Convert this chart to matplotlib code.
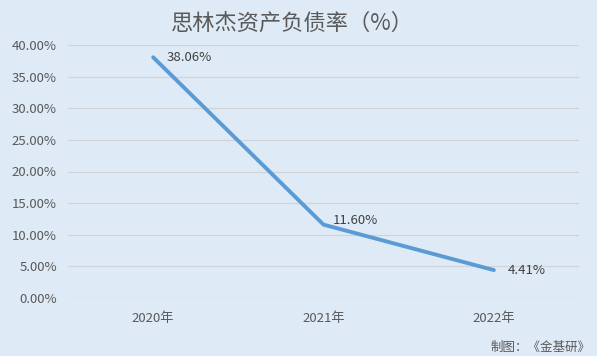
import matplotlib.pyplot as plt
from matplotlib.ticker import FuncFormatter

plt.rcParams['font.family'] = ['Noto Sans CJK SC', 'DejaVu Sans']

years = ['2020年', '2021年', '2022年']
ratio = [38.06, 11.60, 4.41]
labels = ['38.06%', '11.60%', '4.41%']
yticks = [0, 5, 10, 15, 20, 25, 30, 35, 40]

bg = '#DEEAF6'
fig = plt.figure(figsize=(5.97, 3.56), dpi=100, facecolor=bg)
ax = fig.add_axes([68 / 597, 1 - 298 / 356, 511 / 597, 253 / 356], facecolor=bg)

x = list(range(len(years)))
ax.plot(x, ratio, color='#5B9BD5', linewidth=2.8, solid_capstyle='round', zorder=3)
offsets = [(10, 0), (7, -2), (10, 0)]
for xi, yi, t, off in zip(x, ratio, labels, offsets):
    ax.annotate(t, (xi, yi), xytext=off, textcoords='offset points',
                fontsize=9.5, color='#404040', va='bottom' if xi == 1 else 'center')

ax.set_xlim(-0.5, 2.5)
ax.set_ylim(0, 40)
ax.set_xticks(x)
ax.set_xticklabels(years)
ax.set_yticks(yticks)
ax.yaxis.set_major_formatter(FuncFormatter(lambda v, p: f'{v:.2f}%'))
ax.grid(axis='y', color='#D0D4D9', linewidth=0.9)
ax.set_axisbelow(True)
for s in ax.spines.values():
    s.set_visible(False)
ax.tick_params(length=0, labelsize=9.5, colors='#595959', pad=8)
ax.tick_params(axis='x', pad=10)

fig.text(0.49, 0.935, '思林杰资产负债率（%）', ha='center', va='center',
         fontsize=16, color='#595959')
fig.text(0.99, 0.025, '制图：《金基研》', ha='right', va='center',
         fontsize=9, color='#595959')

fig.savefig('out.png', dpi=100, facecolor=bg)
